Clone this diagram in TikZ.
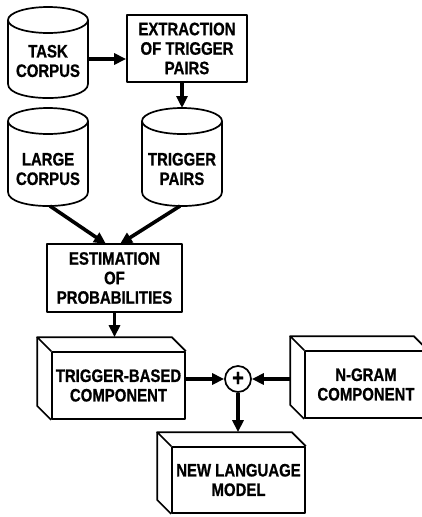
\documentclass[tikz,border=0pt]{standalone}
\usepackage{fontspec}
\setmainfont{Liberation Sans}
\newfontfamily\lblfont[FakeStretch=0.83,FakeBold=0.8]{Liberation Sans}
\usetikzlibrary{arrows.meta,calc}
\newcommand\drum[3]{% cx, top, bottom
  \draw[outline] (#1,#2+13) ellipse [x radius=40pt, y radius=13pt];
  \draw[outline] (#1-40,#2+13) -- (#1-40,#3-14)
     .. controls (#1-40,#3+4.7) and (#1+40,#3+4.7) .. (#1+40,#3-14) -- (#1+40,#2+13);
}
\newcommand\slab[1]{%
  \draw[outline] (#1.north west) -- ($(#1.north west)+(-14,-14)$)
     -- ($(#1.north east)+(-14,-14)$) -- (#1.north east);
  \draw[outline] ($(#1.north west)+(-14,-14)$) -- ($(#1.south west)+(-14,-14)$)
     -- (#1.south west);
}
\begin{document}
\begin{tikzpicture}[x=1pt,y=-1pt,
  lbl/.style={font=\lblfont\bfseries\fontsize{18}{19.5}\selectfont, align=center, inner sep=0pt},
  outline/.style={line width=1.7pt, line join=round},
  flow/.style={line width=3.6pt, -{Triangle[length=12pt,width=11pt]}},
  boxnode/.style={draw, outline, lbl, inner sep=0pt},
]
\useasboundingbox (0,0) rectangle (422,517);
\clip (0,0) rectangle (422,517);

% cylinders
\drum{48}{7}{98}
\node[lbl] (tc) at (48,61) {TASK\\CORPUS};
\coordinate (tc-e) at (88,59);

\drum{48}{108}{206}
\node[lbl] (lc) at (48,169) {LARGE\\CORPUS};
\coordinate (lc-s) at (50,206);

\drum{182}{108}{206}
\node[lbl] (tp) at (182,169) {TRIGGER\\PAIRS};
\coordinate (tp-n) at (182,108);
\coordinate (tp-s) at (180,206);

% boxes
\node[boxnode, minimum width=120pt, minimum height=67pt] (ex) at (187,48.5)
  {EXTRACTION\\OF TRIGGER\\PAIRS};
\node[boxnode, minimum width=135pt, minimum height=68pt] (es) at (114.5,278)
  {ESTIMATION\\OF\\PROBABILITIES};

% 3D boxes
\node[boxnode, minimum width=133pt, minimum height=67pt] (tb) at (118.5,385.5)
  {TRIGGER-BASED\\COMPONENT};
\slab{tb}
\node[boxnode, minimum width=122pt, minimum height=67pt] (ng) at (366,384.5)
  {N-GRAM\\COMPONENT};
\slab{ng}
\node[boxnode, minimum width=133pt, minimum height=66pt] (nlm) at (238.5,480)
  {NEW LANGUAGE\\MODEL};
\slab{nlm}

\node[draw, outline, circle, minimum size=26pt, inner sep=0pt,
      font=\lblfont\bfseries\fontsize{24}{24}\selectfont] (sum) at (238,379) {+};

\coordinate (tb-back) at ($(tb.north)+(-3,-14)$);
\coordinate (ng-back) at ($(ng.north west)+(-14,0)$);
\coordinate (nlm-back) at ($(nlm.north)+(0,-14)$);
\coordinate (es-l) at (106,244);
\coordinate (es-r) at (120,244);

% connectors
\draw[flow] (tc-e) -- (ex.west |- tc-e);
\draw[flow] (ex.south -| tp-n) -- (tp-n);
\draw[flow] (lc-s) -- (es-l);
\draw[flow] (tp-s) -- (es-r);
\draw[flow] (es.south) -- (es.south |- tb-back);
\draw[flow] (tb.east |- sum) -- (sum.west);
\draw[flow] (ng-back |- sum) -- (sum.east);
\draw[flow] (sum.south) -- (sum.south |- nlm-back);
\end{tikzpicture}
\end{document}
